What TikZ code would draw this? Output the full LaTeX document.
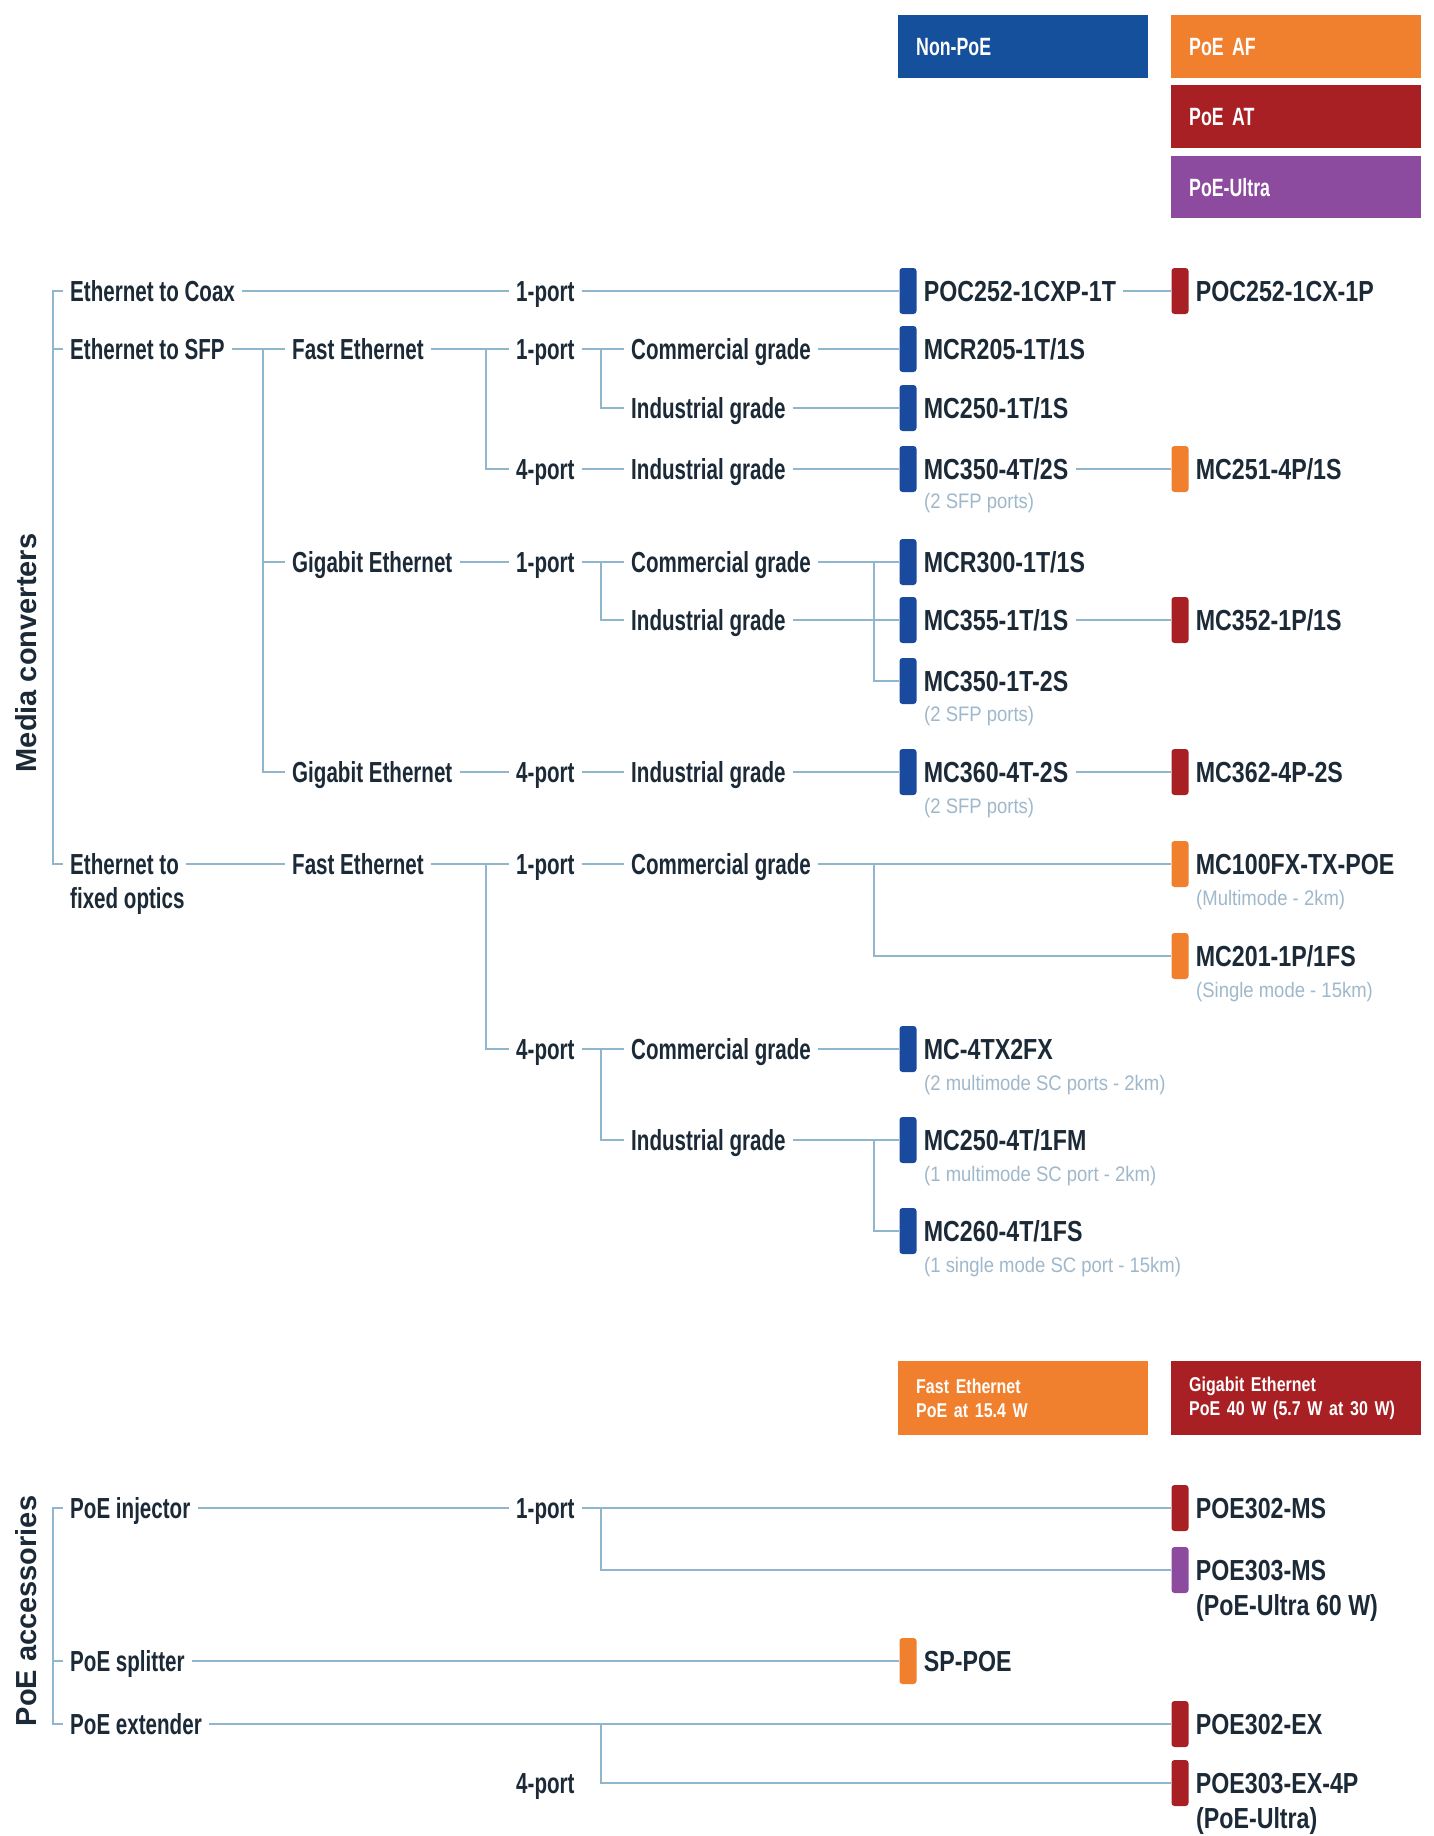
\documentclass[tikz,border=0pt]{standalone}
\usepackage{fontspec}
\setmainfont{Liberation Sans}[FakeStretch=0.8]
\newfontfamily\labfont{Liberation Sans}[FakeStretch=0.71]
\newfontfamily\subfont{Liberation Sans}[FakeStretch=0.88]
\newfontfamily\rotfont{Liberation Sans}
\definecolor{npblue}{HTML}{14509C}
\definecolor{porange}{HTML}{F07F2E}
\definecolor{pred}{HTML}{A81F24}
\definecolor{ppurple}{HTML}{8C4B9E}
\definecolor{barblue}{HTML}{1A4A9E}
\definecolor{linec}{HTML}{8FB6CD}
\definecolor{txt}{HTML}{1C2A38}
\definecolor{subc}{HTML}{9FB8CB}
\begin{document}
\begin{tikzpicture}[x=1pt,y=-1pt,
  lab/.style={anchor=west, inner xsep=7pt, inner ysep=0pt, text height=21pt, text depth=0pt,
    font=\fontsize{29}{35}\selectfont\bfseries, text=txt},
  tlab/.style={lab, font=\labfont\fontsize{29}{35}\selectfont\bfseries},
  subt/.style={anchor=west, inner xsep=7pt, inner ysep=0pt, text height=15pt, text depth=0pt,
    font=\subfont\fontsize{21}{25}\selectfont, text=subc},
  rotlab/.style={rotate=90, inner sep=0pt, font=\rotfont\fontsize{29}{35}\selectfont\bfseries, text=txt},
  pbar/.style={rectangle, rounded corners=3pt, minimum width=17pt, minimum height=46pt, inner sep=0pt},
  bblue/.style={pbar, fill=barblue},
  borange/.style={pbar, fill=porange},
  bred/.style={pbar, fill=pred},
  bpurple/.style={pbar, fill=ppurple},
  legbox/.style={rectangle, anchor=north west, inner xsep=18pt, inner ysep=0pt, text width=214pt,
    minimum width=250pt, align=left, text=white, font=\labfont\fontsize{25}{29}\selectfont\bfseries},
  legbox2/.style={legbox, minimum height=74pt, font=\fontsize{20}{24}\selectfont\bfseries},
  conn/.style={draw=linec, line width=2.6pt}
]
\fill[white] (0,0) rectangle (1434,1836);
\useasboundingbox (0,0) rectangle (1434,1836);
\coordinate (sx) at (53,0);
\coordinate (j2) at (263,0);
\coordinate (j3) at (486,0);
\coordinate (j4) at (601,0);
\coordinate (j5) at (874,0);

% ---------- legends ----------
\node[legbox, fill=npblue, minimum height=63pt] (lnp) at (898,15) {Non-PoE};
\node[legbox, fill=porange, minimum height=63pt] (laf) at (1171,15) {PoE AF};
\node[legbox, fill=pred, minimum height=63pt] (lat) at (1171,85) {PoE AT};
\node[legbox, fill=ppurple, minimum height=62pt] (lul) at (1171,156) {PoE-Ultra};
\node[legbox2, fill=porange] (lfe) at (898,1361) {Fast Ethernet\\PoE at 15.4 W};
\node[legbox2, fill=pred] (lge) at (1171,1361) {Gigabit Ethernet\\PoE 40 W (5.7 W at 30 W)};

% ---------- media converters ----------
\node[rotlab] (mc) at (26,653) {Media converters};

\node[tlab] (coax) at (63,291) {Ethernet to Coax};
\node[tlab] (p1a) at (509,291) {1-port};
\node[bblue] (b1) at (908,291) {};
\node[lab] (m1) at (b1.east) {POC252-1CXP-1T};
\node[bred] (c1) at (1180,291) {};
\node[lab] (n1) at (c1.east) {POC252-1CX-1P};

\node[tlab] (sfp) at (63,349) {Ethernet to SFP};
\node[tlab] (fe1) at (285,349) {Fast Ethernet};
\node[tlab] (p1b) at (509,349) {1-port};
\node[tlab] (cg1) at (624,349) {Commercial grade};
\node[bblue] (b2) at (908,349) {};
\node[lab] (m2) at (b2.east) {MCR205-1T/1S};

\node[tlab] (ig1) at (624,408) {Industrial grade};
\node[bblue] (b3) at (908,408) {};
\node[lab] (m3) at (b3.east) {MC250-1T/1S};

\node[tlab] (p4a) at (509,469) {4-port};
\node[tlab] (ig2) at (624,469) {Industrial grade};
\node[bblue] (b4) at (908,469) {};
\node[lab] (m4) at (b4.east) {MC350-4T/2S};
\node[subt] (s4) at (917,501) {(2 SFP ports)};
\node[borange] (c4) at (1180,469) {};
\node[lab] (n4) at (c4.east) {MC251-4P/1S};

\node[tlab] (ge1) at (285,562) {Gigabit Ethernet};
\node[tlab] (p1c) at (509,562) {1-port};
\node[tlab] (cg2) at (624,562) {Commercial grade};
\node[bblue] (b5) at (908,562) {};
\node[lab] (m5) at (b5.east) {MCR300-1T/1S};

\node[tlab] (ig3) at (624,620) {Industrial grade};
\node[bblue] (b6) at (908,620) {};
\node[lab] (m6) at (b6.east) {MC355-1T/1S};
\node[bred] (c6) at (1180,620) {};
\node[lab] (n6) at (c6.east) {MC352-1P/1S};

\node[bblue] (b7) at (908,681) {};
\node[lab] (m7) at (b7.east) {MC350-1T-2S};
\node[subt] (s7) at (917,714) {(2 SFP ports)};

\node[tlab] (ge2) at (285,772) {Gigabit Ethernet};
\node[tlab] (p4b) at (509,772) {4-port};
\node[tlab] (ig4) at (624,772) {Industrial grade};
\node[bblue] (b8) at (908,772) {};
\node[lab] (m8) at (b8.east) {MC360-4T-2S};
\node[subt] (s8) at (917,806) {(2 SFP ports)};
\node[bred] (c8) at (1180,772) {};
\node[lab] (n8) at (c8.east) {MC362-4P-2S};

\node[tlab] (fo) at (63,864) {Ethernet to};
\node[tlab] (fo2) at (63,898) {fixed optics};
\node[tlab] (fe2) at (285,864) {Fast Ethernet};
\node[tlab] (p1d) at (509,864) {1-port};
\node[tlab] (cg3) at (624,864) {Commercial grade};
\node[borange] (c9) at (1180,864) {};
\node[lab] (n9) at (c9.east) {MC100FX-TX-POE};
\node[subt] (s9) at (1189,898) {(Multimode - 2km)};

\node[borange] (c10) at (1180,956) {};
\node[lab] (n10) at (c10.east) {MC201-1P/1FS};
\node[subt] (s10) at (1189,990) {(Single mode - 15km)};

\node[tlab] (p4c) at (509,1049) {4-port};
\node[tlab] (cg4) at (624,1049) {Commercial grade};
\node[bblue] (b11) at (908,1049) {};
\node[lab] (m11) at (b11.east) {MC-4TX2FX};
\node[subt] (s11) at (917,1083) {(2 multimode SC ports - 2km)};

\node[tlab] (ig5) at (624,1140) {Industrial grade};
\node[bblue] (b12) at (908,1140) {};
\node[lab] (m12) at (b12.east) {MC250-4T/1FM};
\node[subt] (s12) at (917,1174) {(1 multimode SC port - 2km)};

\node[bblue] (b13) at (908,1231) {};
\node[lab] (m13) at (b13.east) {MC260-4T/1FS};
\node[subt] (s13) at (917,1265) {(1 single mode SC port - 15km)};

% connectors: media converters
\draw[conn] (coax.west) -- (coax.west -| sx) -- (fo.west -| sx) -- (fo.west);
\draw[conn] (sfp.west) -- (sfp.west -| sx);
\draw[conn] (coax.east) -- (p1a.west);
\draw[conn] (p1a.east) -- (b1.west);
\draw[conn] (m1.east) -- (c1.west);
\draw[conn] (sfp.east) -- (fe1.west);
\draw[conn] (sfp.east -| j2) |- (ge2.west);
\draw[conn] (ge1.west -| j2) -- (ge1.west);
\draw[conn] (fe1.east) -- (p1b.west);
\draw[conn] (fe1.east -| j3) |- (p4a.west);
\draw[conn] (p1b.east) -- (cg1.west);
\draw[conn] (p1b.east -| j4) |- (ig1.west);
\draw[conn] (cg1.east) -- (b2.west);
\draw[conn] (ig1.east) -- (b3.west);
\draw[conn] (p4a.east) -- (ig2.west);
\draw[conn] (ig2.east) -- (b4.west);
\draw[conn] (m4.east) -- (c4.west);
\draw[conn] (ge1.east) -- (p1c.west);
\draw[conn] (p1c.east) -- (cg2.west);
\draw[conn] (p1c.east -| j4) |- (ig3.west);
\draw[conn] (cg2.east) -- (b5.west);
\draw[conn] (ig3.east) -- (b6.west);
\draw[conn] (cg2.east -| j5) |- (b7.west);
\draw[conn] (m6.east) -- (c6.west);
\draw[conn] (ge2.east) -- (p4b.west);
\draw[conn] (p4b.east) -- (ig4.west);
\draw[conn] (ig4.east) -- (b8.west);
\draw[conn] (m8.east) -- (c8.west);
\draw[conn] (fo.east) -- (fe2.west);
\draw[conn] (fe2.east) -- (p1d.west);
\draw[conn] (fe2.east -| j3) |- (p4c.west);
\draw[conn] (p1d.east) -- (cg3.west);
\draw[conn] (cg3.east) -- (c9.west);
\draw[conn] (cg3.east -| j5) |- (c10.west);
\draw[conn] (p4c.east) -- (cg4.west);
\draw[conn] (p4c.east -| j4) |- (ig5.west);
\draw[conn] (cg4.east) -- (b11.west);
\draw[conn] (ig5.east) -- (b12.west);
\draw[conn] (ig5.east -| j5) |- (b13.west);

% ---------- PoE accessories ----------
\node[rotlab] (pa) at (26,1611) {PoE accessories};

\node[tlab] (inj) at (63,1508) {PoE injector};
\node[tlab] (p1e) at (509,1508) {1-port};
\node[bred] (c14) at (1180,1508) {};
\node[lab] (n14) at (c14.east) {POE302-MS};
\node[bpurple] (c15) at (1180,1570) {};
\node[lab] (n15) at (c15.east) {POE303-MS};
\node[lab] (t15) at (1189,1605) {(PoE-Ultra 60 W)};

\node[tlab] (spl) at (63,1661) {PoE splitter};
\node[borange] (b16) at (908,1661) {};
\node[lab] (m16) at (b16.east) {SP-POE};

\node[tlab] (ext) at (63,1724) {PoE extender};
\node[bred] (c17) at (1180,1724) {};
\node[lab] (n17) at (c17.east) {POE302-EX};
\node[tlab] (p4e) at (509,1783) {4-port};
\node[bred] (c18) at (1180,1783) {};
\node[lab] (n18) at (c18.east) {POE303-EX-4P};
\node[lab] (t18) at (1189,1818) {(PoE-Ultra)};

\draw[conn] (inj.west) -- (inj.west -| sx) -- (ext.west -| sx) -- (ext.west);
\draw[conn] (spl.west) -- (spl.west -| sx);
\draw[conn] (inj.east) -- (p1e.west);
\draw[conn] (p1e.east) -- (c14.west);
\draw[conn] (p1e.east -| j4) |- (c15.west);
\draw[conn] (spl.east) -- (b16.west);
\draw[conn] (ext.east) -- (c17.west);
\draw[conn] (ext.east -| j4) |- (c18.west);
\end{tikzpicture}
\end{document}
